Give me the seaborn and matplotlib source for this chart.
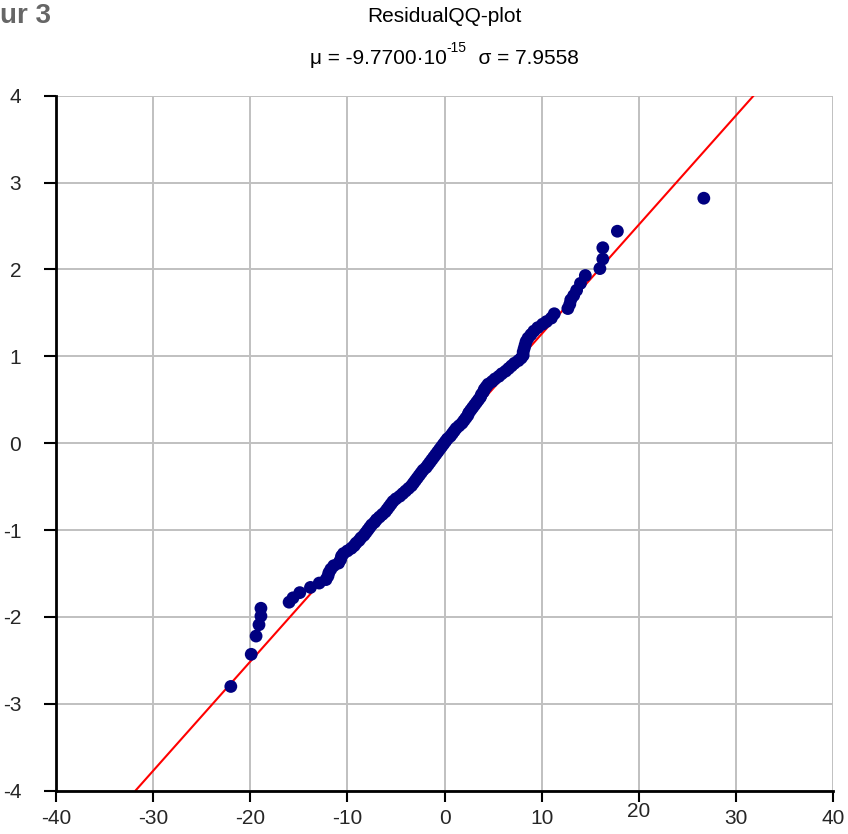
import matplotlib
matplotlib.use("Agg")
import matplotlib.pyplot as plt
from matplotlib import font_manager as fm
from matplotlib.transforms import ScaledTranslation
import seaborn as sns
import pandas as pd

# Residuals (x) against theoretical normal quantiles (y)
residuals = [
    -22.0, -19.9, -19.4, -19.1, -18.9, -18.9, -16.0, -15.6, -14.9, -13.8,
    -12.9, -12.2, -12.0, -11.9, -11.7, -11.4, -10.9, -10.7, -10.6, -10.4,
    -10.0, -9.6, -9.3, -9.1, -8.8, -8.6, -8.3, -8.1, -7.9, -7.7,
    -7.5, -7.2, -7.0, -6.7, -6.4, -6.1, -5.9, -5.7, -5.5, -5.3,
    -5.0, -4.6, -4.3, -4.0, -3.7, -3.4, -3.2, -3.0, -2.8, -2.6,
    -2.4, -2.2, -1.9, -1.7, -1.5, -1.3, -1.1, -0.9, -0.7, -0.5,
    -0.3, -0.1, 0.1, 0.3, 0.6, 0.8, 1.0, 1.2, 1.5, 1.8,
    2.0, 2.2, 2.4, 2.5, 2.7, 2.9, 3.1, 3.3, 3.5, 3.7,
    3.8, 4.0, 4.1, 4.3, 4.5, 4.9, 5.2, 5.6, 5.9, 6.3,
    6.6, 6.9, 7.2, 7.6, 7.9, 8.1, 8.1, 8.2, 8.3, 8.4,
    8.6, 8.9, 9.2, 9.6, 10.1, 10.5, 11.0, 11.3, 12.7, 12.9,
    13.0, 13.3, 13.6, 14.0, 14.5, 16.0, 16.3, 16.3, 17.8, 26.7,
]
quantiles = [
    -2.80, -2.43, -2.22, -2.09, -1.99, -1.90, -1.83, -1.78, -1.72, -1.66,
    -1.61, -1.57, -1.53, -1.49, -1.45, -1.41, -1.38, -1.34, -1.30, -1.27,
    -1.24, -1.21, -1.18, -1.15, -1.12, -1.09, -1.06, -1.03, -1.00, -0.97,
    -0.94, -0.91, -0.88, -0.85, -0.82, -0.79, -0.76, -0.73, -0.70, -0.67,
    -0.64, -0.61, -0.58, -0.55, -0.52, -0.49, -0.46, -0.43, -0.40, -0.37,
    -0.34, -0.31, -0.28, -0.25, -0.22, -0.19, -0.16, -0.13, -0.10, -0.07,
    -0.04, -0.01, 0.02, 0.05, 0.08, 0.11, 0.14, 0.17, 0.20, 0.23,
    0.26, 0.29, 0.32, 0.35, 0.38, 0.41, 0.44, 0.47, 0.50, 0.53,
    0.56, 0.59, 0.62, 0.65, 0.68, 0.71, 0.74, 0.77, 0.80, 0.83,
    0.86, 0.89, 0.92, 0.95, 0.98, 1.01, 1.05, 1.09, 1.13, 1.17,
    1.21, 1.25, 1.29, 1.33, 1.37, 1.40, 1.44, 1.49, 1.55, 1.60,
    1.65, 1.70, 1.76, 1.84, 1.93, 2.01, 2.12, 2.25, 2.44, 2.82,
]

mu = -9.7700e-15
sigma = 7.9558

x_ticks = [-40, -30, -20, -10, 0, 10, 20, 30, 40]
y_ticks = [-4, -3, -2, -1, 0, 1, 2, 3, 4]

sns.set_theme(style="white")
names = {f.name for f in fm.fontManager.ttflist}
family = "Liberation Sans Narrow" if "Liberation Sans Narrow" in names else "Liberation Sans"
plt.rcParams["font.family"] = [family, "DejaVu Sans"]

df = pd.DataFrame({"residual": residuals, "quantile": quantiles})

fig = plt.figure(figsize=(8.48, 8.34), dpi=100)
ax = fig.add_axes([56 / 848, 1 - 790.7 / 834, (833 - 56) / 848, (790.7 - 95.7) / 834])

ax.set_xlim(-40, 40)
ax.set_ylim(-4, 4)
ax.set_xticks(x_ticks)
ax.set_yticks(y_ticks)
ax.grid(True, color="#c0c0c0", linewidth=1.4)
ax.set_axisbelow(True)

# reference line of a normal distribution with the fitted mean and deviation
ax.axline((mu, 0), slope=1 / sigma, color="red", linewidth=1.5, zorder=2)

sns.scatterplot(data=df, x="residual", y="quantile", ax=ax, color="#000080",
                s=85, edgecolor="none", linewidth=0, zorder=3, clip_on=False)

ax.set_xlabel("")
ax.set_ylabel("")
for side in ("top", "right"):
    ax.spines[side].set_visible(False)
for side in ("left", "bottom"):
    ax.spines[side].set_color("black")
    ax.spines[side].set_linewidth(2.0)
    ax.spines[side].set_zorder(4)

ax.tick_params(axis="x", direction="out", length=8, width=1.5, color="black",
               pad=5, labelsize=15, bottom=True)
ax.tick_params(axis="y", direction="out", length=9, width=1.5, color="black",
               pad=16, labelsize=15, left=True)
ax.set_xticklabels([str(v) for v in x_ticks])
ax.set_yticklabels([str(v) for v in y_ticks])

fig.canvas.draw()
for tick in ax.xaxis.get_major_ticks():
    if tick.label1.get_text() == "20":
        tick.label1.set_transform(tick.label1.get_transform()
                                  + ScaledTranslation(0, 0.07, fig.dpi_scale_trans))

# headings
fig.text(444 / 848, 1 - 17 / 834, "ResidualQQ-plot", ha="center", va="center",
         fontsize=15, color="black")

# statistics line, composed of pieces so the exponent keeps a plain hyphen
renderer = fig.canvas.get_renderer()
y_stat = 1 - 58 / 834
parts = [
    ("μ = -9.7700·10", 15, 0.0),
    ("-15", 10, 0.012),
    ("  σ = 7.9558", 15, 0.0),
]
texts = []
for s, fs, dy in parts:
    t = fig.text(0, y_stat + dy, s, ha="left", va="center", fontsize=fs, color="black")
    texts.append(t)
widths = [t.get_window_extent(renderer).width / fig.bbox.width for t in texts]
total = sum(widths)
x0 = 444 / 848 - total / 2
for t, w in zip(texts, widths):
    t.set_x(x0)
    x0 += w

fig.text(0 / 848, 1 - 16 / 834, "ur 3", ha="left", va="center",
         fontsize=20, fontweight="bold", color="#666666")

fig.savefig("out.png", dpi=100)
